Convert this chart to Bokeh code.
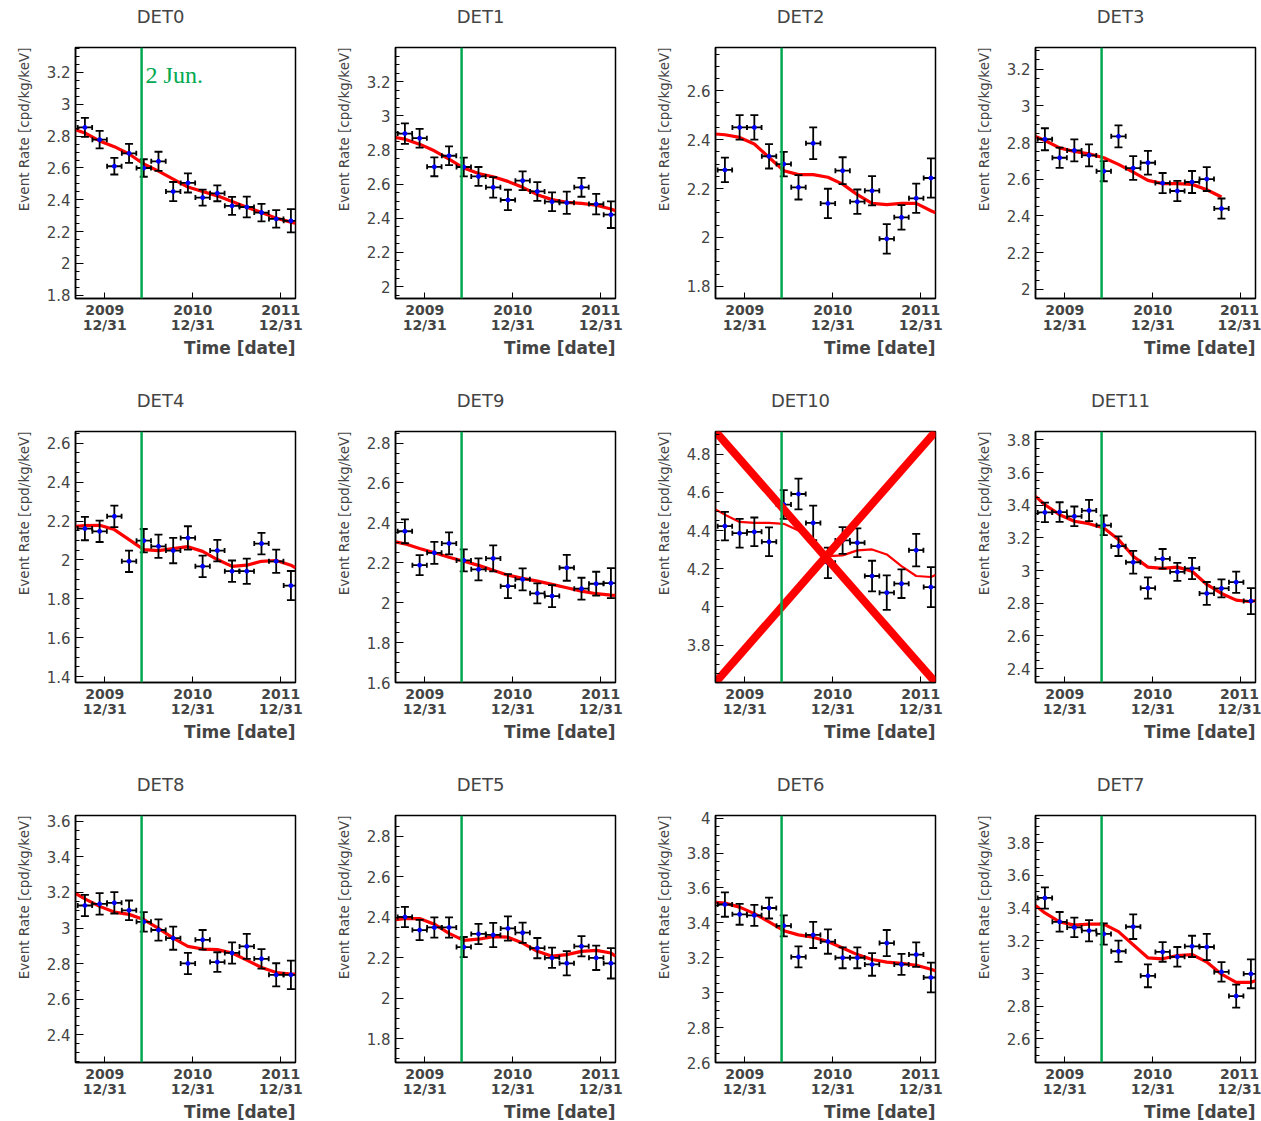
import datetime as dt
import math
from bokeh.plotting import figure
from bokeh.layouts import column, row
from bokeh.models import Range1d, FixedTicker, SingleIntervalTicker, Span, Label, Title, CustomJSTickFormatter
from bokeh.embed import file_html
from bokeh.resources import INLINE

# ---------------- data ----------------
bin_centers = ["2009-10-10", "2009-12-10", "2010-02-09", "2010-04-11", "2010-06-11",
               "2010-08-11", "2010-10-11", "2010-12-11", "2011-02-10", "2011-04-12",
               "2011-06-12", "2011-08-12", "2011-10-12", "2011-12-12", "2012-02-11"]
bin_half_days = 30
x_start, x_end = "2009-09-01", "2012-03-01"
marker_date = "2010-06-02"
tick_dates = ["2009-12-31", "2010-12-31", "2011-12-31"]
tick_labels = ["2009\n12/31", "2010\n12/31", "2011\n12/31"]

det0_rate = [2.855, 2.778, 2.611, 2.692, 2.600, 2.642, 2.452, 2.506, 2.414, 2.441, 2.362, 2.355, 2.320, 2.280, 2.268]
det0_err = [0.060, 0.055, 0.052, 0.060, 0.055, 0.060, 0.060, 0.060, 0.050, 0.050, 0.057, 0.065, 0.055, 0.055, 0.073]
det0_fit = [2.84, 2.82, 2.77, 2.734, 2.688, 2.625, 2.58, 2.53, 2.48, 2.452, 2.425, 2.39, 2.354, 2.32, 2.285, 2.26, 2.253]

det1_rate = [2.896, 2.869, 2.701, 2.766, 2.700, 2.645, 2.581, 2.507, 2.620, 2.557, 2.497, 2.491, 2.581, 2.483, 2.421]
det1_err = [0.06, 0.055, 0.055, 0.055, 0.055, 0.055, 0.06, 0.06, 0.055, 0.055, 0.055, 0.065, 0.055, 0.06, 0.078]
det1_fit = [2.873, 2.863, 2.834, 2.795, 2.746, 2.694, 2.662, 2.643, 2.616, 2.581, 2.538, 2.509, 2.493, 2.487, 2.476, 2.454, 2.444]

det2_rate = [2.276, 2.450, 2.450, 2.332, 2.300, 2.205, 2.385, 2.139, 2.273, 2.146, 2.191, 1.994, 2.082, 2.160, 2.243]
det2_err = [0.05, 0.05, 0.05, 0.05, 0.05, 0.05, 0.065, 0.06, 0.055, 0.05, 0.06, 0.06, 0.05, 0.06, 0.08]
det2_fit = [2.423, 2.42, 2.409, 2.382, 2.327, 2.273, 2.257, 2.257, 2.246, 2.218, 2.175, 2.139, 2.134, 2.139, 2.139, 2.109, 2.101]

det3_rate = [2.818, 2.717, 2.757, 2.730, 2.644, 2.834, 2.661, 2.690, 2.579, 2.536, 2.585, 2.601, 2.440]
det3_err = [0.06, 0.055, 0.06, 0.06, 0.055, 0.06, 0.065, 0.065, 0.055, 0.055, 0.06, 0.065, 0.055]
det3_fit = [2.833, 2.811, 2.771, 2.751, 2.738, 2.717, 2.681, 2.639, 2.594, 2.576, 2.576, 2.572, 2.543, 2.503]

det4_rate = [2.161, 2.147, 2.224, 1.993, 2.099, 2.070, 2.048, 2.113, 1.967, 2.048, 1.942, 1.942, 2.084, 1.993, 1.868]
det4_err = [0.06, 0.055, 0.055, 0.055, 0.06, 0.06, 0.065, 0.06, 0.055, 0.055, 0.055, 0.065, 0.055, 0.06, 0.075]
det4_fit = [2.173, 2.176, 2.178, 2.156, 2.104, 2.053, 2.048, 2.058, 2.068, 2.044, 2.002, 1.967, 1.973, 1.993, 1.997, 1.973, 1.959]

det9_rate = [2.358, 2.188, 2.250, 2.297, 2.212, 2.167, 2.222, 2.083, 2.117, 2.047, 2.033, 2.175, 2.070, 2.095, 2.098]
det9_err = [0.06, 0.05, 0.055, 0.055, 0.055, 0.055, 0.065, 0.06, 0.055, 0.05, 0.055, 0.065, 0.055, 0.06, 0.075]
det9_fit = [2.305, 2.295, 2.272, 2.25, 2.228, 2.208, 2.187, 2.163, 2.138, 2.122, 2.108, 2.092, 2.075, 2.058, 2.045, 2.038, 2.037]

det10_rate = [4.423, 4.386, 4.393, 4.341, 4.536, 4.591, 4.440, 4.231, 4.348, 4.336, 4.162, 4.075, 4.122, 4.297, 4.104]
det10_err = [0.075, 0.075, 0.075, 0.075, 0.075, 0.08, 0.09, 0.08, 0.07, 0.075, 0.08, 0.09, 0.075, 0.085, 0.105]
det10_fit = [4.51, 4.483, 4.445, 4.44, 4.44, 4.435, 4.40, 4.336, 4.266, 4.27, 4.296, 4.301, 4.275, 4.214, 4.162, 4.157, 4.167]

det11_rate = [3.356, 3.358, 3.332, 3.367, 3.277, 3.149, 3.051, 2.893, 3.072, 2.992, 3.013, 2.860, 2.891, 2.929, 2.813]
det11_err = [0.06, 0.06, 0.06, 0.065, 0.06, 0.06, 0.07, 0.065, 0.06, 0.055, 0.065, 0.07, 0.055, 0.065, 0.08]
det11_fit = [3.454, 3.403, 3.342, 3.302, 3.287, 3.261, 3.19, 3.088, 3.021, 3.013, 3.021, 2.996, 2.915, 2.86, 2.819, 2.809, 2.817]

det8_rate = [3.127, 3.136, 3.142, 3.100, 3.035, 2.989, 2.943, 2.801, 2.934, 2.809, 2.860, 2.897, 2.827, 2.737, 2.737]
det8_err = [0.06, 0.06, 0.06, 0.055, 0.055, 0.06, 0.065, 0.06, 0.055, 0.055, 0.06, 0.07, 0.055, 0.065, 0.08]
det8_fit = [3.195, 3.164, 3.122, 3.09, 3.077, 3.048, 2.998, 2.943, 2.897, 2.882, 2.879, 2.86, 2.82, 2.778, 2.75, 2.741, 2.741]

det5_rate = [2.401, 2.336, 2.349, 2.349, 2.252, 2.317, 2.312, 2.344, 2.323, 2.247, 2.199, 2.172, 2.256, 2.199, 2.172]
det5_err = [0.05, 0.05, 0.05, 0.05, 0.05, 0.05, 0.06, 0.06, 0.05, 0.05, 0.05, 0.06, 0.05, 0.06, 0.075]
det5_fit = [2.388, 2.393, 2.393, 2.365, 2.32, 2.285, 2.291, 2.304, 2.301, 2.272, 2.231, 2.207, 2.215, 2.231, 2.236, 2.223, 2.207]

det6_rate = [3.505, 3.449, 3.443, 3.485, 3.383, 3.205, 3.331, 3.293, 3.200, 3.200, 3.162, 3.284, 3.162, 3.218, 3.087]
det6_err = [0.07, 0.06, 0.06, 0.06, 0.06, 0.06, 0.075, 0.07, 0.06, 0.06, 0.065, 0.075, 0.06, 0.07, 0.085]
det6_fit = [3.518, 3.513, 3.49, 3.453, 3.406, 3.355, 3.331, 3.318, 3.293, 3.256, 3.218, 3.19, 3.175, 3.168, 3.157, 3.134, 3.125]

det7_rate = [3.462, 3.316, 3.282, 3.262, 3.242, 3.136, 3.286, 2.986, 3.132, 3.102, 3.166, 3.162, 3.010, 2.862, 2.998]
det7_err = [0.065, 0.06, 0.06, 0.065, 0.065, 0.065, 0.075, 0.07, 0.06, 0.06, 0.065, 0.08, 0.06, 0.07, 0.088]
det7_fit = [3.416, 3.37, 3.316, 3.296, 3.302, 3.302, 3.256, 3.176, 3.096, 3.09, 3.11, 3.116, 3.07, 2.996, 2.946, 2.946, 2.956]

y_limits = {
    "DET0": (1.78, 3.357), "DET1": (1.93, 3.40), "DET2": (1.75, 2.777), "DET3": (1.95, 3.318),
    "DET4": (1.37, 2.66), "DET9": (1.60, 2.858), "DET10": (3.605, 4.918), "DET11": (2.315, 3.851),
    "DET8": (2.244, 3.633), "DET5": (1.682, 2.902), "DET6": (2.60, 4.015), "DET7": (2.456, 3.966),
}

panel_rows = [
    [("DET0", det0_rate, det0_err, det0_fit), ("DET1", det1_rate, det1_err, det1_fit),
     ("DET2", det2_rate, det2_err, det2_fit), ("DET3", det3_rate, det3_err, det3_fit)],
    [("DET4", det4_rate, det4_err, det4_fit), ("DET9", det9_rate, det9_err, det9_fit),
     ("DET10", det10_rate, det10_err, det10_fit), ("DET11", det11_rate, det11_err, det11_fit)],
    [("DET8", det8_rate, det8_err, det8_fit), ("DET5", det5_rate, det5_err, det5_fit),
     ("DET6", det6_rate, det6_err, det6_fit), ("DET7", det7_rate, det7_err, det7_fit)],
]

# ---------------- helpers ----------------
EPOCH = dt.datetime(1970, 1, 1)
def ms(s):
    return (dt.datetime.strptime(s, "%Y-%m-%d") - EPOCH).total_seconds() * 1000.0

DAY = 86400000.0
GREEN = "#00a94f"
FONT = "DejaVu Sans"
TITLE_PX = 18
# DejaVu Sans advance widths (em) used to centre the pad title over the whole pad
GLYPH_W = {"D": 0.770, "E": 0.632, "T": 0.611}

def text_width(s, px):
    return px * sum(GLYPH_W.get(ch, 0.636) for ch in s)

def make_panel(name, rate, err, fit, width, height, right_border, bottom_border):
    n = len(rate)
    xs = [ms(d) for d in bin_centers[:n]]
    fit_x = [ms(x_start)] + xs + ([ms(x_end)] if len(fit) == n + 2 else [])
    y0, y1 = y_limits[name]
    xa0, xa1 = ms(x_start), ms(x_end)
    p = figure(width=width, height=height, x_axis_type="datetime",
               output_backend="svg", toolbar_location=None,
               x_range=Range1d(xa0, xa1), y_range=Range1d(y0, y1),
               min_border_left=75, min_border_right=right_border,
               min_border_top=47, min_border_bottom=bottom_border)
    p.grid.visible = False
    p.outline_line_color = "black"
    p.outline_line_width = 1.5
    p.background_fill_color = "white"

    # pad title (second, empty line keeps the name well above the frame)
    p.title.text = name + "\n "
    p.title.align = "left"
    p.title.offset = 85 - text_width(name, TITLE_PX) / 2.0
    p.title.text_font = FONT
    p.title.text_font_size = f"{TITLE_PX}px"
    p.title.text_font_style = "normal"
    p.title.text_line_height = 1.0
    p.title.standoff = 0

    # x axis
    xa = p.xaxis[0]
    xa.ticker = FixedTicker(ticks=[ms(d) for d in tick_dates], minor_ticks=[])
    xa.major_label_overrides = {ms(d): lab for d, lab in zip(tick_dates, tick_labels)}
    xa.major_label_text_font = FONT
    xa.major_label_text_font_style = "bold"
    xa.major_label_text_font_size = "14px"
    xa.major_label_text_line_height = 0.95
    xa.major_tick_in = 6
    xa.major_tick_out = 0
    xa.major_label_standoff = 3
    xa.axis_line_width = 1.5
    p.add_layout(Title(text="Time [date]", align="right", text_font=FONT,
                       text_font_style="bold", text_font_size="17px", standoff=0), "below")

    # y axis
    ya = p.yaxis[0]
    ya.ticker = SingleIntervalTicker(interval=0.2, num_minor_ticks=4)
    ya.formatter = CustomJSTickFormatter(code="return String(Number(tick.toFixed(3)));")
    ya.major_label_text_font = FONT
    ya.major_label_text_font_size = "15px"
    ya.major_tick_in = 8
    ya.major_tick_out = 0
    ya.minor_tick_in = 4
    ya.minor_tick_out = 0
    ya.major_label_standoff = 5
    ya.axis_line_width = 1.5
    p.add_layout(Title(text="Event Rate [cpd/kg/keV]", align="right", vertical_align="top",
                       text_font=FONT, text_font_style="normal", text_font_size="13.5px",
                       standoff=20), "left")

    # fit curve
    fw = 2.2 if name == "DET10" else 3.2
    p.line(fit_x, fit, line_color="red", line_width=fw)

    # error bars
    lo = [r - e for r, e in zip(rate, err)]
    hi = [r + e for r, e in zip(rate, err)]
    xl = [x - bin_half_days * DAY for x in xs]
    xr = [x + bin_half_days * DAY for x in xs]
    p.segment(x0=xs, y0=lo, x1=xs, y1=hi, line_color="black", line_width=1.8)
    p.segment(x0=xl, y0=rate, x1=xr, y1=rate, line_color="black", line_width=1.8)
    p.scatter(xs + xs, lo + hi, marker="dash", size=8, line_color="black", line_width=1.8)
    p.scatter(xl + xr, rate + rate, marker="dash", size=5, angle=math.pi / 2,
              line_color="black", line_width=1.8)
    p.scatter(xs, rate, size=4, color="blue")

    # 2 June line
    p.add_layout(Span(location=ms(marker_date), dimension="height",
                      line_color=GREEN, line_width=2.5))
    if name == "DET0":
        p.add_layout(Label(x=ms(marker_date), y=y1, x_offset=4, y_offset=-27,
                           text="2 Jun.", text_color=GREEN,
                           text_font="Liberation Serif", text_font_size="24px",
                           text_baseline="middle"))
    if name == "DET10":
        p.segment(x0=[xa0, xa0], y0=[y1, y0], x1=[xa1, xa1], y1=[y0, y1],
                  line_color="red", line_width=8)
    return p

rows = []
for ri, prow in enumerate(panel_rows):
    figs = []
    for ci, (name, rate, err, fit) in enumerate(prow):
        w = 301 if ci == 3 else 320
        rb = 6 if ci == 3 else 25
        h = 353 if ri == 2 else 384
        bb = 55 if ri == 2 else 86
        figs.append(make_panel(name, rate, err, fit, w, h, rb, bb))
    rows.append(row(*figs))

layout = column(*rows)
open("out.html", "w").write(file_html(layout, INLINE))
